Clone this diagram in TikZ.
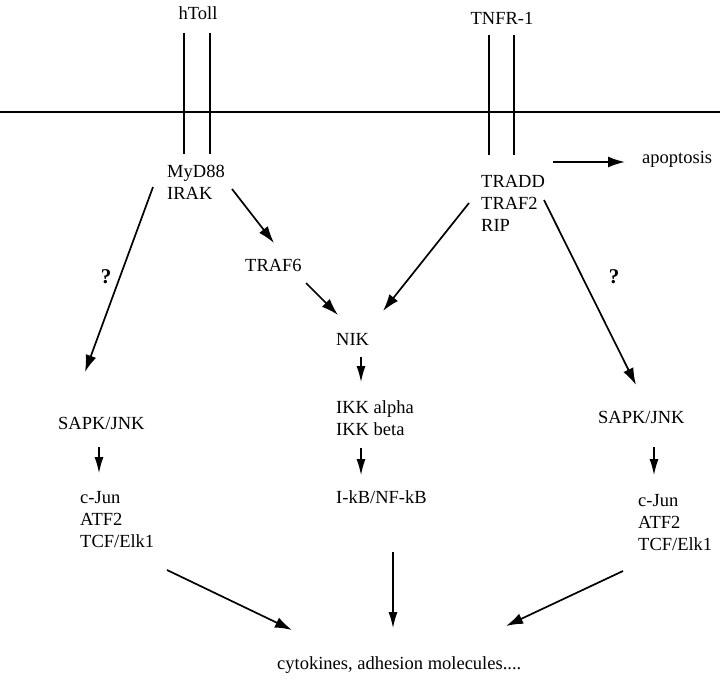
\documentclass[tikz,border=0pt]{standalone}
\usepackage{fontspec}
\setmainfont{Liberation Serif}
\usetikzlibrary{arrows.meta}
\begin{document}
\begin{tikzpicture}[x=1pt,y=-1pt,
  lbl/.style={inner sep=0pt,anchor=west,align=left,font=\fontsize{18.5}{22}\selectfont},
  arr/.style={line width=1.7pt,-{Latex[length=17pt,width=11pt]}},
  sarr/.style={line width=1.2pt,-{Latex[length=16pt,width=9pt]}},
  memb/.style={line width=1.1pt}]
\useasboundingbox (0,0) rectangle (720,679);
% labels
\node[lbl,anchor=center] (htoll) at (198,13) {hToll};
\node[lbl,anchor=center] (tnfr) at (502,18) {TNFR-1};
\node[lbl] (myd) at (167,182.5) {MyD88\\IRAK};
\node[lbl] (tradd) at (481,203) {TRADD\\TRAF2\\RIP};
\node[lbl] (apop) at (642,159) {apoptosis};
\node[lbl] (traf6) at (245,265) {TRAF6};
\node[lbl] (nik) at (336,339) {NIK};
\node[lbl] (ikk) at (336,418) {IKK alpha\\IKK beta};
\node[lbl] (ikb) at (336,497) {I-kB/NF-kB};
\node[lbl] (sapkL) at (58,423) {SAPK/JNK};
\node[lbl] (sapkR) at (598,417) {SAPK/JNK};
\node[lbl] (cjunL) at (80,520) {c-Jun\\ATF2\\TCF/Elk1};
\node[lbl] (cjunR) at (638,523) {c-Jun\\ATF2\\TCF/Elk1};
\node[lbl] (cyto) at (277,665) {cytokines, adhesion molecules....};
\node[lbl,anchor=center,font=\fontsize{21}{22}\selectfont\bfseries] (q1) at (106,277) {?};
\node[lbl,anchor=center,font=\fontsize{21}{22}\selectfont\bfseries] (q2) at (614,277) {?};
% membrane and receptors
\draw[memb] (0,112) -- (720,112);
\draw[memb] (184,33) -- (184,154);
\draw[memb] (210,33) -- (210,154);
\draw[memb] (489,35) -- (489,155);
\draw[memb] (514,35) -- (514,155);
% connectors
\draw[arr] ([shift={(-14,4.5)}]myd.west) -- ([shift={(27,-51)}]sapkL.west);
\draw[arr] ([shift={(65,6.5)}]myd.west) -- ([shift={(29,-22)}]traf6.west);
\draw[arr] ([shift={(61,18)}]traf6.west) -- ([shift={(2,-24)}]nik.west);
\draw[arr] ([shift={(-12,0)}]tradd.west) -- ([shift={(47,-28)}]nik.west);
\draw[arr] ([shift={(63,-3)}]tradd.west) -- ([shift={(38,-32)}]sapkR.west);
\draw[arr] ([shift={(72,-41)}]tradd.west) -- ([shift={(-17,3)}]apop.west);
\draw[sarr] ([shift={(25,18)}]nik.west) -- ([shift={(25,-36)}]ikk.west);
\draw[sarr] ([shift={(25,30)}]ikk.west) -- ([shift={(25,-22)}]ikb.west);
\draw[sarr] ([shift={(41,24)}]sapkL.west) -- ([shift={(19,-47)}]cjunL.west);
\draw[sarr] ([shift={(56,30)}]sapkR.west) -- ([shift={(16,-48)}]cjunR.west);
\draw[arr] ([shift={(87,50)}]cjunL.west) -- ([shift={(15,-35)}]cyto.west);
\draw[sarr] ([shift={(57,55)}]ikb.west) -- ([shift={(116,-37)}]cyto.west);
\draw[arr] ([shift={(-15,48)}]cjunR.west) -- ([shift={(229,-39)}]cyto.west);
\end{tikzpicture}
\end{document}
